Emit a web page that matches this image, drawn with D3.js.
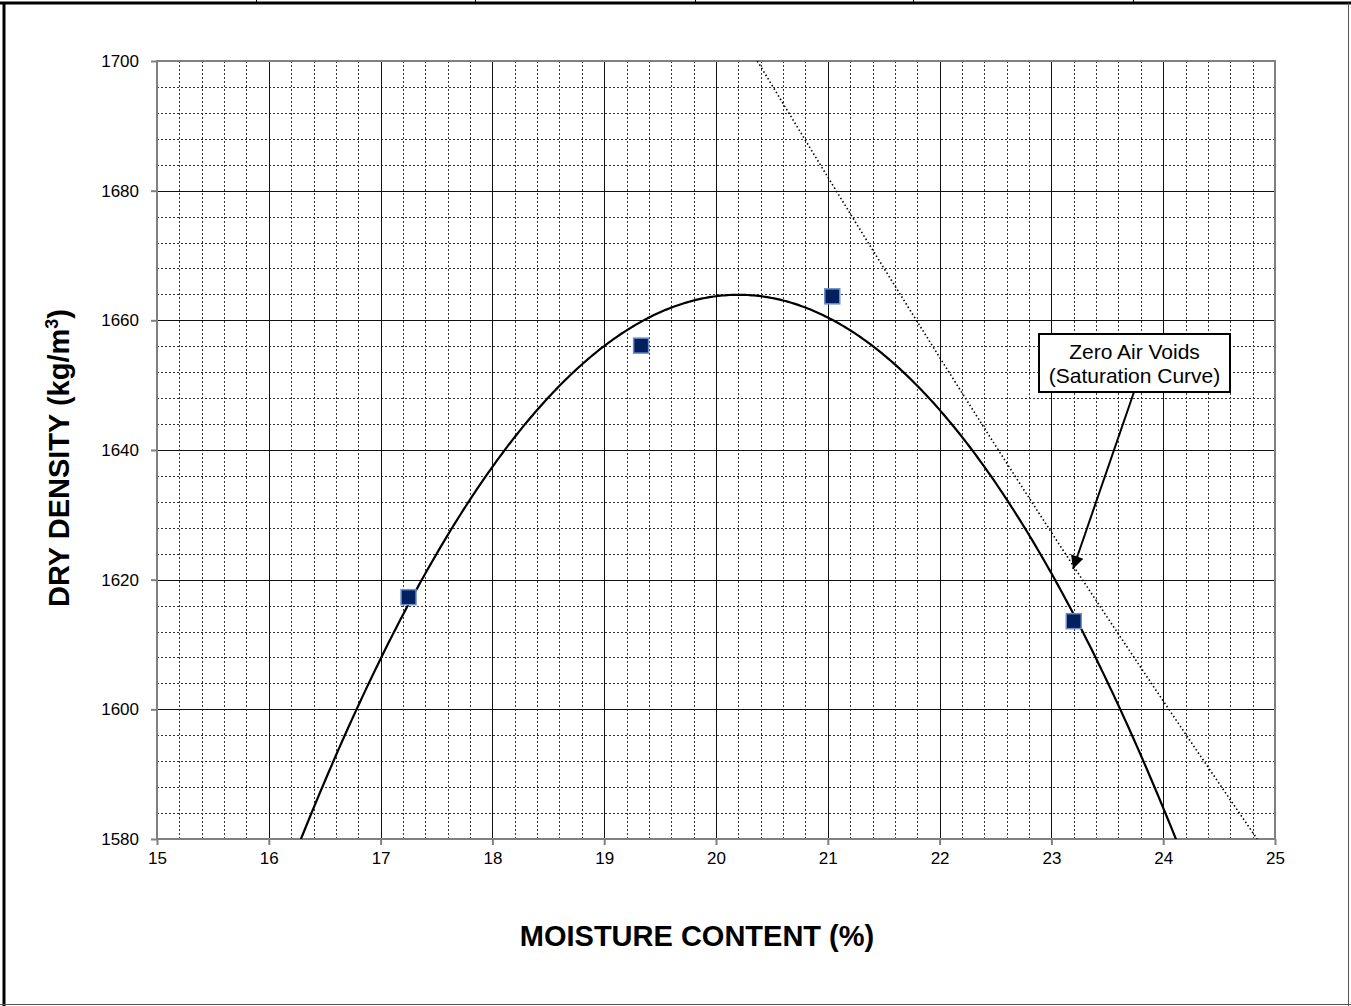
<!DOCTYPE html>
<html>
<head>
<meta charset="utf-8">
<script src="https://cdn.jsdelivr.net/npm/d3@7"></script>
<style>
  html, body { margin: 0; padding: 0; background: #fff; }
  svg { display: block; font-family: "Liberation Sans", Arial, sans-serif; }
</style>
</head>
<body>
<svg id="chart" width="1351" height="1006"></svg>
<script>
// Compaction test results
const moisture = [17.25, 19.33, 21.04, 23.2];           // %
const dryDensity = [1617.3, 1656.1, 1663.7, 1613.6];     // kg/m3

// Zero air voids (saturation) line, read at several moisture contents
const zavMoisture = [20.37, 21, 22, 23, 24, 24.84];
const zavDensity = [1700, 1682.1, 1654.3, 1627.3, 1601.3, 1580];

// Axis ranges and tick labels
const xTicks = [15, 16, 17, 18, 19, 20, 21, 22, 23, 24, 25];
const yTicks = [1580, 1600, 1620, 1640, 1660, 1680, 1700];

(function draw() {
const FONT = "'Liberation Sans', Arial, sans-serif";
const svg = d3.select("#chart");
const W = 1351, H = 1006;

// Page frame (the report page this chart sits in)
const frame = svg.append("g");
frame.append("line").attr("x1", 0).attr("x2", W).attr("y1", 3).attr("y2", 3)
  .attr("stroke", "#000").attr("stroke-width", 3);
frame.append("line").attr("x1", 4).attr("x2", 4).attr("y1", 2).attr("y2", H)
  .attr("stroke", "#000").attr("stroke-width", 3);
frame.append("line").attr("x1", W - 2.5).attr("x2", W - 2.5).attr("y1", 3).attr("y2", H)
  .attr("stroke", "#555").attr("stroke-width", 1);
frame.append("line").attr("x1", 0).attr("x2", W).attr("y1", H - 1.5).attr("y2", H - 1.5)
  .attr("stroke", "#555").attr("stroke-width", 1);
[256, 475, 695, 913, 1133].forEach(px => {
  frame.append("line").attr("x1", px + 0.5).attr("x2", px + 0.5).attr("y1", 0).attr("y2", 3)
    .attr("stroke", "#000").attr("stroke-width", 1);
});

const pL = 157, pR = 1275, pT = 61, pB = 839;
const x = d3.scaleLinear().domain([15, 25]).range([pL, pR]);
const y = d3.scaleLinear().domain([1580, 1700]).range([pB, pT]);

const plot = svg.append("g");

// Minor grid
const xMinor = d3.range(15, 25.001, 0.2).filter(v => Math.abs(v - Math.round(v)) > 1e-6);
const yMinor = d3.range(1580, 1700.001, 4).filter(v => v % 20 !== 0);
plot.selectAll("line.xminor").data(xMinor).join("line")
  .attr("x1", d => Math.round(x(d)) + 0.5).attr("x2", d => Math.round(x(d)) + 0.5)
  .attr("y1", pT).attr("y2", pB)
  .attr("stroke", "#333").attr("stroke-width", 1).attr("stroke-dasharray", "2,2");
plot.selectAll("line.yminor").data(yMinor).join("line")
  .attr("x1", pL).attr("x2", pR)
  .attr("y1", d => Math.round(y(d)) + 0.5).attr("y2", d => Math.round(y(d)) + 0.5)
  .attr("stroke", "#333").attr("stroke-width", 1).attr("stroke-dasharray", "2,2");

// Major grid
plot.selectAll("line.xmajor").data(xTicks).join("line")
  .attr("x1", d => Math.round(x(d)) + 0.5).attr("x2", d => Math.round(x(d)) + 0.5)
  .attr("y1", pT).attr("y2", pB)
  .attr("stroke", "#111").attr("stroke-width", 1);
plot.selectAll("line.ymajor").data(yTicks).join("line")
  .attr("x1", pL).attr("x2", pR)
  .attr("y1", d => Math.round(y(d)) + 0.5).attr("y2", d => Math.round(y(d)) + 0.5)
  .attr("stroke", "#111").attr("stroke-width", 1);

// Plot border
plot.append("rect").attr("x", pL).attr("y", pT)
  .attr("width", pR - pL).attr("height", pB - pT)
  .attr("fill", "none").attr("stroke", "#808080").attr("stroke-width", 2);

// Axes
const xAxis = svg.append("g").attr("transform", `translate(0,${pB})`)
  .call(d3.axisBottom(x).tickValues(xTicks).tickFormat(d3.format("d"))
    .tickSize(6).tickSizeOuter(0).tickPadding(7));
const yAxis = svg.append("g").attr("transform", `translate(${pL},0)`)
  .call(d3.axisLeft(y).tickValues(yTicks).tickFormat(d3.format("d"))
    .tickSize(6).tickSizeOuter(0).tickPadding(12));
[xAxis, yAxis].forEach(a => {
  a.attr("font-family", FONT).attr("font-size", 17);
  a.select(".domain").remove();
  a.selectAll(".tick line").attr("stroke", "#808080").attr("stroke-width", 2);
  a.selectAll("text").attr("fill", "#000");
});

// Clip for curves
svg.append("defs").append("clipPath").attr("id", "plotClip")
  .append("rect").attr("x", pL).attr("y", pT)
  .attr("width", pR - pL).attr("height", pB - pT);

// Least-squares quadratic trendline through the test points
function quadFit(xs, ys) {
  const n = xs.length;
  const S = [0, 0, 0, 0, 0], T = [0, 0, 0];
  for (let i = 0; i < n; i++) {
    const xi = xs[i], yi = ys[i];
    for (let k = 0; k < 5; k++) S[k] += Math.pow(xi, k);
    for (let k = 0; k < 3; k++) T[k] += yi * Math.pow(xi, k);
  }
  const A = [[S[0], S[1], S[2], T[0]], [S[1], S[2], S[3], T[1]], [S[2], S[3], S[4], T[2]]];
  for (let c = 0; c < 3; c++) {
    let p = c;
    for (let r = c + 1; r < 3; r++) if (Math.abs(A[r][c]) > Math.abs(A[p][c])) p = r;
    [A[c], A[p]] = [A[p], A[c]];
    for (let r = 0; r < 3; r++) {
      if (r === c) continue;
      const f = A[r][c] / A[c][c];
      for (let k = c; k < 4; k++) A[r][k] -= f * A[c][k];
    }
  }
  return [A[0][3] / A[0][0], A[1][3] / A[1][1], A[2][3] / A[2][2]];
}
const coef = quadFit(moisture, dryDensity);
const trendX = d3.range(15, 25.0001, 0.02);
const trend = trendX.map(v => [v, coef[0] + coef[1] * v + coef[2] * v * v]);

const curves = svg.append("g").attr("clip-path", "url(#plotClip)");

curves.append("path").datum(zavMoisture.map((m, i) => [m, zavDensity[i]]))
  .attr("d", d3.line().x(d => x(d[0])).y(d => y(d[1])).curve(d3.curveMonotoneX))
  .attr("fill", "none").attr("stroke", "#000").attr("stroke-width", 1.6)
  .attr("stroke-dasharray", "1.5,2.5");

curves.append("path").datum(trend)
  .attr("d", d3.line().x(d => x(d[0])).y(d => y(d[1])))
  .attr("fill", "none").attr("stroke", "#000").attr("stroke-width", 2.2);

// Test points
svg.append("g").selectAll("rect").data(moisture.map((m, i) => [m, dryDensity[i]])).join("rect")
  .attr("x", d => x(d[0]) - 7.5).attr("y", d => y(d[1]) - 7.5)
  .attr("width", 15).attr("height", 15)
  .attr("fill", "#002060").attr("stroke", "#6f8fc8").attr("stroke-width", 1.5);

// Annotation with arrow to the saturation line
const ann = svg.append("g").attr("font-family", FONT);
ann.append("defs").append("marker").attr("id", "arrowHead")
  .attr("viewBox", "0 0 10 10").attr("refX", 10).attr("refY", 5)
  .attr("markerWidth", 16).attr("markerHeight", 13).attr("markerUnits", "userSpaceOnUse")
  .attr("orient", "auto")
  .append("path").attr("d", "M0,0 L10,5 L0,10 Z").attr("fill", "#000");
ann.append("line").attr("x1", 1134).attr("y1", 392).attr("x2", 1073).attr("y2", 569)
  .attr("stroke", "#000").attr("stroke-width", 2).attr("marker-end", "url(#arrowHead)");
ann.append("rect").attr("x", 1039).attr("y", 334).attr("width", 191).attr("height", 58)
  .attr("fill", "#fff").attr("stroke", "#000").attr("stroke-width", 2);
ann.append("text").attr("x", 1134.5).attr("y", 359).attr("text-anchor", "middle")
  .attr("font-size", 21).text("Zero Air Voids");
ann.append("text").attr("x", 1134.5).attr("y", 383).attr("text-anchor", "middle")
  .attr("font-size", 21).text("(Saturation Curve)");

// Axis titles
svg.append("text").attr("x", 697).attr("y", 946).attr("text-anchor", "middle")
  .attr("font-family", FONT).attr("font-size", 29).attr("font-weight", "bold")
  .text("MOISTURE CONTENT (%)");
const yt = svg.append("text").attr("transform", "translate(69,458) rotate(-90)")
  .attr("text-anchor", "middle").attr("font-family", FONT)
  .attr("font-size", 29).attr("font-weight", "bold");
yt.append("tspan").text("DRY DENSITY (kg/m");
yt.append("tspan").attr("font-size", 18).attr("dy", -11).text("3");
yt.append("tspan").attr("dy", 11).text(")");
})();
</script>
</body>
</html>
